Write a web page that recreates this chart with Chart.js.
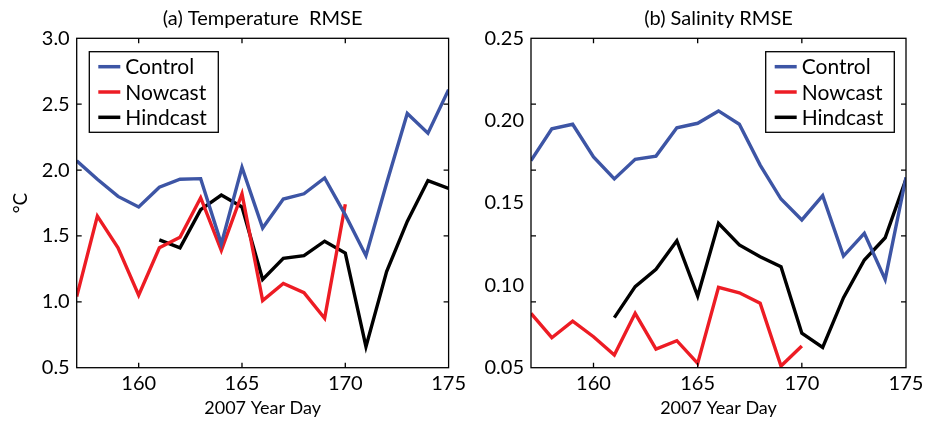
<!DOCTYPE html>
<html>
<head>
<meta charset="utf-8">
<script src="https://cdn.jsdelivr.net/npm/chart.js@4/dist/chart.umd.min.js"></script>
<style>
  html, body { margin: 0; padding: 0; background: #fff; }
  #wrap { position: relative; width: 941px; height: 422px; }
  canvas { position: absolute; top: 0; }
  #cT { left: 0; }
  #cS { left: 470px; }
</style>
</head>
<body>
<div id="wrap">
  <canvas id="cT" width="470" height="422"></canvas>
  <canvas id="cS" width="471" height="422"></canvas>
</div>
<script>
// ---- Data ----
const days = [157,158,159,160,161,162,163,164,165,166,167,168,169,170,171,172,173,174,175];
const nowcastDays = [157,158,159,160,161,162,163,164,165,166,167,168,169,170];
const hindcastDays = [161,162,163,164,165,166,167,168,169,170,171,172,173,174,175];

const tempControl  = [2.07,1.93,1.80,1.72,1.87,1.93,1.935,1.44,2.02,1.56,1.78,1.82,1.94,1.66,1.35,1.90,2.43,2.28,2.61];
const tempNowcast  = [1.04,1.65,1.41,1.05,1.41,1.49,1.79,1.39,1.82,1.01,1.14,1.07,0.875,1.74];
const tempHindcast = [1.47,1.41,1.70,1.81,1.72,1.17,1.33,1.35,1.46,1.37,0.66,1.23,1.61,1.92,1.86];

const salControl  = [0.1757,0.195,0.1978,0.178,0.1646,0.1765,0.1785,0.1957,0.1984,0.2059,0.1978,0.173,0.1524,0.1397,0.1545,0.1178,0.1316,0.1036,0.1656];
const salNowcast  = [0.083,0.0682,0.0783,0.0688,0.0577,0.083,0.0613,0.0664,0.0526,0.0988,0.0955,0.0891,0.051,0.0632];
const salHindcast = [0.0804,0.0992,0.1097,0.1271,0.0935,0.1377,0.1245,0.1174,0.1113,0.0709,0.0623,0.0925,0.1154,0.1289,0.1646];

const seriesNames = ['Control','Nowcast','Hindcast'];
const xTicks = [160,165,170,175];
const tempYTicks = [0.5,1.0,1.5,2.0,2.5,3.0];
const salYTicks = [0.05,0.10,0.15,0.20,0.25];
const salInnerTicks = [0.09,0.13,0.17,0.21];

const colors = ['#3d55a5','#ed1c24','#000000'];
const FONT = 'Lato, "Noto Sans", sans-serif';

function pts(xs, ys) { return xs.map((x, i) => ({x: x, y: ys[i]})); }

// ---- Plugins ----
const panelTitle = {
  id: 'panelTitle',
  afterDraw(chart, args, opts) {
    const ctx = chart.ctx, a = chart.chartArea;
    ctx.save();
    ctx.font = '20px ' + FONT;
    ctx.fillStyle = '#000';
    ctx.textAlign = 'center';
    ctx.textBaseline = 'middle';
    ctx.fillText(opts.text, (a.left + a.right) / 2, 18.5);
    ctx.restore();
  }
};

const frameTicks = {
  id: 'frameTicks',
  afterDatasetsDraw(chart, args, opts) {
    const ctx = chart.ctx, a = chart.chartArea;
    const xs = chart.scales.x, ys = chart.scales.y;
    ctx.save();
    ctx.strokeStyle = '#000';
    ctx.lineWidth = 1.3;
    ctx.strokeRect(a.left, a.top, a.right - a.left, a.bottom - a.top);
    const L = 5;
    ctx.beginPath();
    (opts.xTicks || []).forEach(v => {
      const px = xs.getPixelForValue(v);
      ctx.moveTo(px, a.bottom); ctx.lineTo(px, a.bottom - L);
      ctx.moveTo(px, a.top); ctx.lineTo(px, a.top + L);
    });
    (opts.yTicks || []).forEach(v => {
      const py = ys.getPixelForValue(v);
      ctx.moveTo(a.left, py); ctx.lineTo(a.left + L, py);
      ctx.moveTo(a.right, py); ctx.lineTo(a.right - L, py);
    });
    ctx.stroke();
    ctx.restore();
  }
};

const boxLegend = {
  id: 'boxLegend',
  afterDatasetsDraw(chart, args, opts) {
    const ctx = chart.ctx;
    ctx.save();
    ctx.fillStyle = '#fff';
    ctx.fillRect(opts.x, opts.y, opts.w, opts.h);
    ctx.strokeStyle = '#000';
    ctx.lineWidth = 1.3;
    ctx.strokeRect(opts.x, opts.y, opts.w, opts.h);
    ctx.font = '21px ' + FONT;
    ctx.textBaseline = 'middle';
    chart.data.datasets.forEach((ds, i) => {
      const cy = opts.y + 15 + i * 25.3;
      ctx.strokeStyle = ds.borderColor;
      ctx.lineWidth = 3.5;
      ctx.beginPath();
      ctx.moveTo(opts.x + 9, cy); ctx.lineTo(opts.x + 31, cy);
      ctx.stroke();
      ctx.fillStyle = '#000';
      ctx.fillText(ds.label, opts.x + 36, cy + 1);
    });
    ctx.restore();
  }
};

function makeChart(id, title, series, yMin, yMax, yTickVals, decimals, innerY, legendBox, yTitle, padRight, yWidth) {
  const ds = series.map((s, i) => ({
    label: seriesNames[i],
    data: s,
    borderColor: colors[i],
    backgroundColor: colors[i],
    borderWidth: 3.4,
    pointRadius: 0,
    tension: 0,
    borderJoinStyle: 'miter',
    fill: false
  }));
  return new Chart(document.getElementById(id), {
    type: 'line',
    data: { datasets: ds },
    options: {
      responsive: false,
      animation: false,
      layout: { padding: { left: 0, right: padRight, top: 38.3, bottom: 0 } },
      plugins: {
        legend: { display: false },
        tooltip: { enabled: false },
        title: { display: false },
        panelTitle: { text: title },
        frameTicks: { xTicks: [160,165,170], yTicks: innerY },
        boxLegend: legendBox
      },
      scales: {
        x: {
          type: 'linear', min: 157, max: 175,
          grid: { display: false, drawTicks: false },
          border: { display: false },
          afterBuildTicks: s => { s.ticks = xTicks.map(v => ({value: v})); },
          afterFit: s => { s.height = 54.3; },
          ticks: { color: '#000', padding: 4, maxRotation: 0, font: { family: FONT, size: 20 } },
          title: { display: true, text: '2007 Year Day', color: '#000', font: { family: FONT, size: 18 }, padding: { top: 0, bottom: 3 } }
        },
        y: {
          type: 'linear', min: yMin, max: yMax,
          grid: { display: false, drawTicks: false },
          border: { display: false },
          afterBuildTicks: s => { s.ticks = yTickVals.map(v => ({value: v})); },
          afterFit: s => { s.width = yWidth; },
          ticks: { color: '#000', padding: 7, font: { family: FONT, size: 20 }, callback: v => Number(v).toFixed(decimals) },
          title: { display: !!yTitle, text: yTitle, color: '#000', font: { family: FONT, size: 19 }, padding: { top: 9, bottom: 0 } }
        }
      }
    },
    plugins: [frameTicks, boxLegend, panelTitle]
  });
}

makeChart('cT', '(a) Temperature  RMSE',
  [pts(days, tempControl), pts(nowcastDays, tempNowcast), pts(hindcastDays, tempHindcast)],
  0.5, 3.0, tempYTicks, 1, [1.0,1.5,2.0,2.5],
  { x: 89.3, y: 51.7, w: 129, h: 80.6 }, '°C', 18.3, 76.7);

makeChart('cS', '(b) Salinity RMSE',
  [pts(days, salControl), pts(nowcastDays, salNowcast), pts(hindcastDays, salHindcast)],
  0.05, 0.25, salYTicks, 2, salInnerTicks,
  { x: 295.7, y: 51.7, w: 128.6, h: 80.6 }, '', 35, 61);
</script>
</body>
</html>
